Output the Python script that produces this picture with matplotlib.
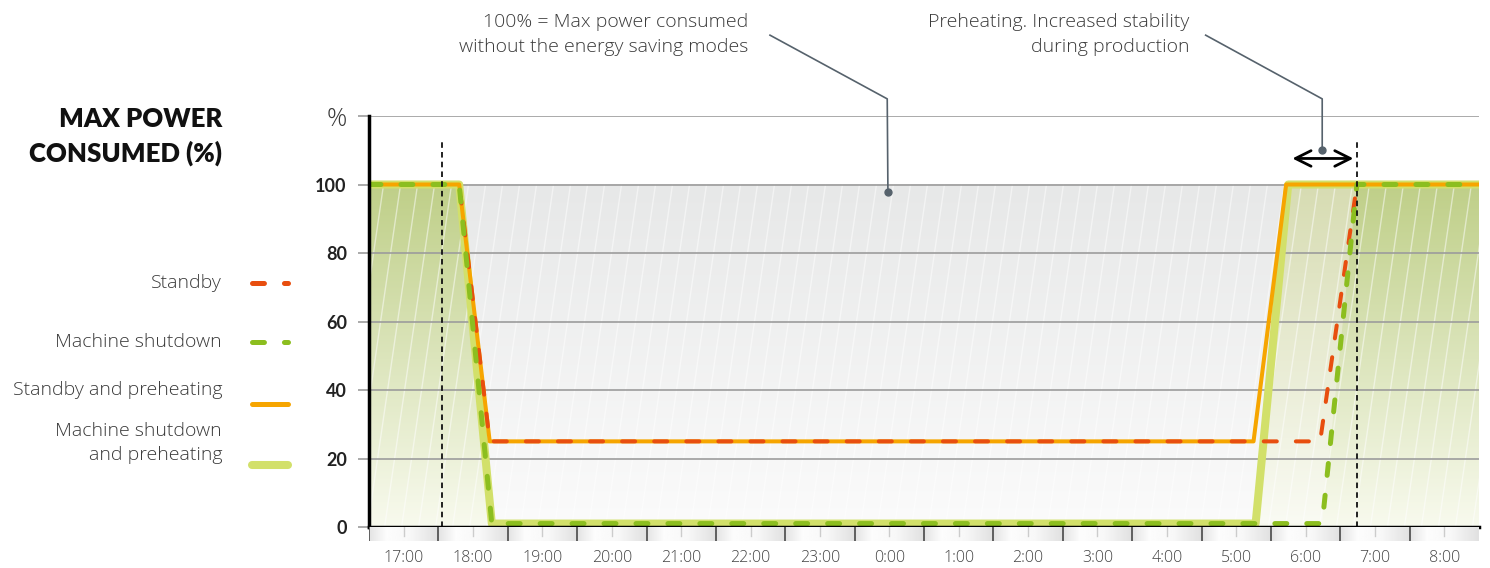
#----------------------------------------------------------------------
# Max power consumed over one night with / without energy saving modes
#----------------------------------------------------------------------

import matplotlib

matplotlib.use('Agg')

import matplotlib.pyplot as plt
import numpy as np
from matplotlib.lines import Line2D
from matplotlib.patches import Rectangle
from matplotlib.collections import LineCollection
from matplotlib.colors import LinearSegmentedColormap

plt.rcParams['font.family'] = ['Open Sans', 'DejaVu Sans']
plt.rcParams['lines.scale_dashes'] = False
BOLD = ['Lato', 'DejaVu Sans']

# hours: 17 = 17:00 ... 24 = 0:00 ... 32 = 8:00
hour_pos = list(range(17, 33))
hour_labels = ['17:00', '18:00', '19:00', '20:00', '21:00', '22:00', '23:00', '0:00',
               '1:00', '2:00', '3:00', '4:00', '5:00', '6:00', '7:00', '8:00']
y_ticks = [0, 20, 40, 60, 80, 100, 120]
y_labels = ['0', '20', '40', '60', '80', '100', '%']

t_standby = [16.5, 17.80, 18.24, 30.21, 30.74, 32.5]
standby = [100, 100, 25, 25, 100, 100]

t_shutdown = [16.5, 17.80, 18.27, 30.24, 30.74, 32.5]
shutdown = [100, 100, 1, 1, 100, 100]

t_standby_pre = [16.5, 17.80, 18.24, 29.25, 29.72, 32.5]
standby_pre = [100, 100, 25, 25, 100, 100]

t_shutdown_pre = [16.5, 17.80, 18.27, 29.28, 29.75, 32.5]
shutdown_pre = [100, 100, 1, 1, 100, 100]

markers_x = [17.55, 30.74]          # dashed vertical markers
arrow_span = [29.81, 30.69]         # preheating span arrow
note_100 = (23.98, 97.8)
note_pre = (30.24, 110.1)

RED = '#e84e0f'
GREEN = '#8cbe1f'
ORANGE = '#f6a500'
LGREEN = '#d2e06a'
TXT = '#3a3a3a'
LEAD = '#56626c'

W, H = 1490, 568
X0, X1 = 16.5, 32.5


def gradient_fill(ax, x, y, top, bottom, zorder):
    """fill area under (x, y) with a vertical gradient"""
    poly = ax.fill_between(x, y, 0, facecolor='none', edgecolor='none')
    cmap = LinearSegmentedColormap.from_list('g', [bottom, top])
    grad = np.linspace(0, 1, 256).reshape(-1, 1)
    im = ax.imshow(grad, aspect='auto', cmap=cmap, origin='lower',
                   extent=[X0, X1, 0, 100], zorder=zorder, interpolation='bilinear')
    im.set_clip_path(poly.get_paths()[0], ax.transData)
    return im


def plot_power():

    fig = plt.figure(figsize=(W / 100, H / 100), dpi=100)
    ax = fig.add_axes([369 / W, 1 - 527 / H, 1110 / W, 411 / H])

    # grey background under 100 %
    cmap = LinearSegmentedColormap.from_list('bg', ['#fbfbfb', '#e7e8e8'])
    ax.imshow(np.linspace(0, 1, 256).reshape(-1, 1), aspect='auto', cmap=cmap,
              origin='lower', extent=[X0, X1, 0, 100], zorder=0)

    # green gradients under the shutdown curves
    gradient_fill(ax, t_shutdown_pre, shutdown_pre, '#d7dcb2', '#fafbf4', 1)
    gradient_fill(ax, t_shutdown, shutdown, '#bfcf88', '#f8faee', 1.1)

    # white diagonal hatch
    xs = np.arange(X0 - 1, X1 + 0.5, 0.245)
    segs = [[(x, 0), (x + 0.72, 100)] for x in xs]
    ax.add_collection(LineCollection(segs, colors='white', linewidths=1,
                                     alpha=0.5, zorder=1.5))

    ax.set_xlim(X0, X1)
    ax.set_ylim(0, 120)

    # grid
    for yv in y_ticks[1:]:
        ax.axhline(yv, color='#9c9c9c', lw=1.2, zorder=2)

    # data lines
    ax.plot(t_shutdown_pre, shutdown_pre, color=LGREEN, lw=5.8, zorder=3,
            solid_joinstyle='round', solid_capstyle='round')
    ax.plot(t_standby_pre, standby_pre, color=ORANGE, lw=2.9, zorder=4,
            solid_joinstyle='round')
    red, = ax.plot(t_standby, standby, color=RED, lw=2.9, zorder=5,
                   linestyle=(0, (9.4, 13.7)), dash_capstyle='round')
    # the red dashes are hidden under the 100 % plateau
    red.set_clip_path(Rectangle((X0, -5), X1 - X0, 101.5, transform=ax.transData))
    ax.plot(t_shutdown, shutdown, color=GREEN, lw=3.6, zorder=6,
            linestyle=(0, (8.6, 14.4)), dash_capstyle='round')

    # vertical markers
    for xm in markers_x:
        ax.plot([xm, xm], [0, 113], color='#111111', lw=1.3,
                linestyle=(0, (4, 3)), zorder=7, clip_on=False)

    # preheating arrow
    ax.annotate('', xy=(arrow_span[0], 107.6), xytext=(arrow_span[1], 107.6),
                arrowprops=dict(arrowstyle='<->', lw=2, color='black',
                                mutation_scale=28, shrinkA=0, shrinkB=0),
                zorder=8)

    # annotations with leader lines
    ax.plot([22.28, 23.97, note_100[0]], [143.6, 125.0, note_100[1]],
            color=LEAD, lw=1.2, clip_on=False, zorder=8)
    ax.plot(*note_100, 'o', color=LEAD, ms=5, zorder=8)
    ax.text(21.97, 143.8, '100% = Max power consumed\nwithout the energy saving modes',
            ha='right', va='center', fontsize=14, color=TXT, weight='light',
            linespacing=1.45, clip_on=False)

    ax.plot([28.56, note_pre[0], note_pre[0]], [143.6, 125.0, note_pre[1]],
            color=LEAD, lw=1.2, clip_on=False, zorder=8)
    ax.plot(*note_pre, 'o', color=LEAD, ms=5, zorder=8)
    ax.text(28.33, 143.8, 'Preheating. Increased stability\nduring production',
            ha='right', va='center', fontsize=14, color=TXT, weight='light',
            linespacing=1.45, clip_on=False)

    # axes styling
    for s in ['top', 'right']:
        ax.spines[s].set_visible(False)
    ax.spines['left'].set_linewidth(2.5)
    ax.spines['bottom'].set_linewidth(2.5)
    ax.spines['left'].set_zorder(9)
    ax.spines['bottom'].set_zorder(9)
    ax.set_xticks([])
    ax.set_yticks(y_ticks)
    ax.set_yticklabels(y_labels)
    ax.tick_params(axis='y', length=8, width=1.2, color='#9c9c9c', pad=8,
                   labelsize=13, labelcolor='#222222')
    for lab in ax.get_yticklabels():
        lab.set_family(BOLD)
        lab.set_fontweight('bold')
    pct = ax.get_yticklabels()[-1]
    pct.set_fontweight('light')
    pct.set_family(['Open Sans', 'DejaVu Sans'])
    pct.set_fontsize(18)
    pct.set_color(TXT)

    # time strip under the axis
    sx = fig.add_axes([369 / W, 1 - 541 / H, 1110 / W, 14 / H])
    prof_x = np.linspace(0, 1, 200)
    prof = np.interp(prof_x, [0, 0.25, 0.6, 1], [0.89, 0.99, 0.97, 0.88])
    band = np.tile(prof, len(hour_pos))
    sx.imshow(band.reshape(1, -1), aspect='auto', cmap='gray', vmin=0, vmax=1,
              extent=[X0, X1, 0, 1], interpolation='bilinear')
    for hp in hour_pos:
        sx.plot([hp - 0.5, hp - 0.5], [0, 1], color='#555555', lw=1.3)
        sx.plot([hp, hp], [0.35, 1], color='#cccccc', lw=1)
    sx.set_xlim(X0, X1)
    sx.set_ylim(0, 1)
    sx.axis('off')
    for hp, hl in zip(hour_pos, hour_labels):
        sx.text(hp, -1.2, hl, ha='center', va='center', fontsize=11.5,
                color='#444444', weight='light')

    # title
    fig.text(222 / W, 1 - 136.5 / H, 'MAX POWER\nCONSUMED (%)', ha='right',
             va='center', fontsize=18.5, weight='heavy', color='#111111',
             linespacing=1.45, family=BOLD)

    # legend
    leg = [('Standby', 283, 283, RED, 3.6, (0, (8.6, 14.4))),
           ('Machine shutdown', 342, 342, GREEN, 3.6, (0, (8.6, 14.4))),
           ('Standby and preheating', 390, 404, ORANGE, 3.6, '-'),
           ('Machine shutdown\nand preheating', 443, 465, LGREEN, 5.8, '-')]
    for lab, ty, ly, col, lw, ls in leg:
        fig.text(222 / W, 1 - ty / H, lab, ha='right', va='center', fontsize=14,
                 color=TXT, linespacing=1.45, weight='light')
        fig.add_artist(Line2D([252 / W, 288 / W], [1 - ly / H, 1 - ly / H],
                              transform=fig.transFigure, color=col, lw=lw,
                              linestyle=ls, dash_capstyle='round',
                              solid_capstyle='round'))

    fig.savefig('out.png', dpi=100)

    return


if __name__ == "__main__":

    plot_power()
